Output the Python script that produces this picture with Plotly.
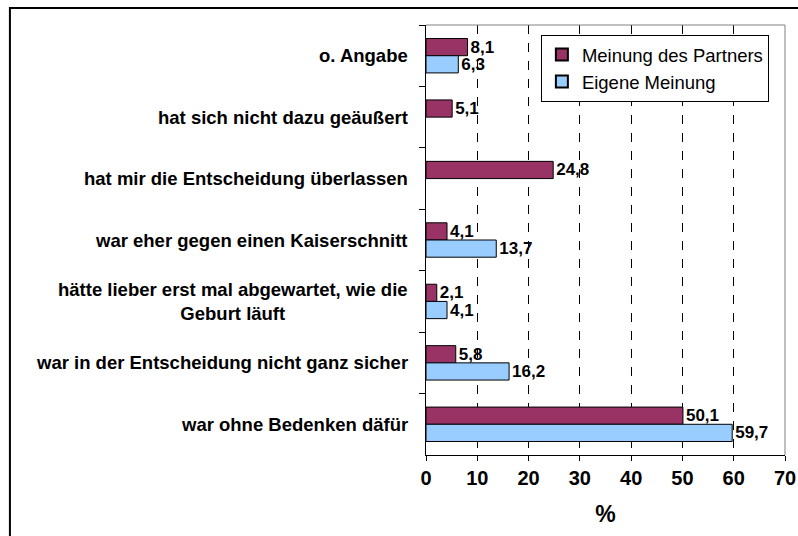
import plotly.graph_objects as go

categories = [
    "o. Angabe",
    "hat sich nicht dazu geäußert",
    "hat mir die Entscheidung überlassen",
    "war eher gegen einen Kaiserschnitt",
    "hätte lieber erst mal abgewartet, wie die<br>Geburt läuft",
    "war in der Entscheidung nicht ganz sicher",
    "war ohne Bedenken däfür",
]
partner = [8.1, 5.1, 24.8, 4.1, 2.1, 5.8, 50.1]
eigene = [6.3, None, None, 13.7, 4.1, 16.2, 59.7]
x_ticks = [0, 10, 20, 30, 40, 50, 60, 70]


def fmt(vals):
    return ["" if v is None else f"{v:.1f}".replace(".", ",") for v in vals]


FONT = "Liberation Sans, Arial, sans-serif"

fig = go.Figure()
fig.add_trace(go.Bar(
    y=categories, x=partner, orientation="h", name="Meinung des Partners",
    marker=dict(color="#993366", line=dict(color="black", width=1)),
    text=fmt(partner), textposition="outside", constraintext="none", cliponaxis=False,
    textfont=dict(family=FONT, size=17, color="black", weight="bold"),
))
fig.add_trace(go.Bar(
    y=categories, x=eigene, orientation="h", name="Eigene Meinung",
    marker=dict(color="#99CCFF", line=dict(color="black", width=1)),
    text=fmt(eigene), textposition="outside", constraintext="none", cliponaxis=False,
    textfont=dict(family=FONT, size=17, color="black", weight="bold"),
))

annotations = []
for c in categories:
    annotations.append(dict(
        x=0, xref="paper", y=c, yref="y", xanchor="right", yanchor="middle",
        xshift=-16, text=c, showarrow=False, align="center",
        font=dict(family=FONT, size=18.5, color="black", weight="bold"),
    ))

fig.update_layout(
    width=798, height=536,
    margin=dict(l=426, r=13, t=25, b=81, autoexpand=False),
    paper_bgcolor="white", plot_bgcolor="white",
    barmode="group", bargap=0.44, bargroupgap=0,
    font=dict(family=FONT, color="black"),
    showlegend=True,
    legend=dict(
        x=0.32, y=0.977, xanchor="left", yanchor="top",
        bgcolor="white", bordercolor="black", borderwidth=1,
        font=dict(family=FONT, size=18.5, color="black"),
        itemsizing="constant", tracegroupgap=12,
    ),
    xaxis=dict(
        range=[0, 70], tickvals=x_ticks, showgrid=True, gridcolor="black",
        griddash="dash", gridwidth=1, zeroline=False, automargin=False,
        showline=True, linecolor="black", linewidth=1,
        ticks="outside", ticklen=5, tickcolor="black",
        tickfont=dict(family=FONT, size=20, color="black", weight="bold"),
        title=dict(text="%", font=dict(family=FONT, size=23, color="black", weight="bold"), standoff=17),
        fixedrange=True,
    ),
    yaxis=dict(
        autorange="reversed", showticklabels=False, automargin=False,
        showline=True, linecolor="black", linewidth=1,
        ticks="outside", ticklen=6, tickcolor="black", tickson="boundaries",
        showgrid=False, zeroline=False, fixedrange=True,
    ),
    annotations=annotations,
    shapes=[
        dict(type="line", xref="paper", yref="paper", x0=0, x1=1, y0=1, y1=1,
             line=dict(color="#808080", width=1)),
        dict(type="line", xref="paper", yref="paper", x0=1, x1=1, y0=0, y1=1,
             line=dict(color="#808080", width=1)),
        dict(type="rect", xref="paper", yref="paper", x0=-1.159, x1=1.06, y0=-0.3, y1=1.0395,
             line=dict(color="black", width=2), fillcolor="rgba(0,0,0,0)"),
    ],
)

fig.write_html(
    "out.html",
    config={"displayModeBar": False},
    post_script="document.body.style.margin='0';document.body.style.overflow='hidden';",
)
